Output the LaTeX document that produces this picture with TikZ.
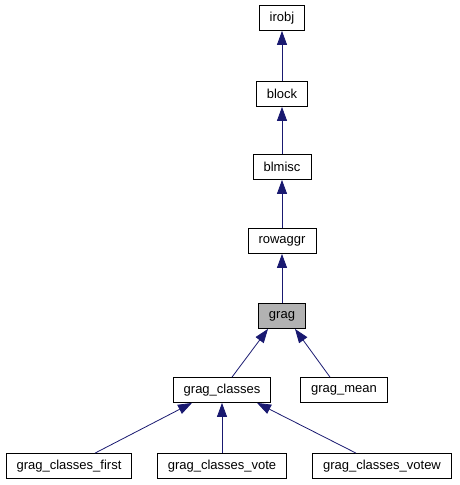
\documentclass[tikz,border=0pt]{standalone}
\usepackage{fontspec}
\setmainfont{Liberation Sans}
\usetikzlibrary{arrows.meta}

\definecolor{edgeblue}{HTML}{191970}

\begin{document}
\begin{tikzpicture}[x=1pt,y=-1pt,line width=0.8pt,
  cls/.style={draw=black,fill=white,inner xsep=10.5pt,inner ysep=0pt,
    minimum height=25pt,font=\fontsize{13}{15}\selectfont},
  inh/.style={draw=edgeblue,-{Triangle[length=14pt,width=10pt]}}]
\useasboundingbox (0,0) rectangle (459,485);

\node [cls] (irobj) at (282,18) {irobj};
\node [cls] (block) at (282,94) {block};
\node [cls] (blmisc) at (282,167) {blmisc};
\node [cls] (rowaggr) at (282,241) {rowaggr};
\node [cls,fill=black!30] (grag) at (282,316) {grag};
\node [cls] (classes) at (222,390) {grag\_classes};
\node [cls] (mean) at (344,390) {grag\_mean};
\node [cls] (first) at (69,466) {grag\_classes\_first};
\node [cls] (vote) at (222,466) {grag\_classes\_vote};
\node [cls] (votew) at (382,466) {grag\_classes\_votew};

\draw [inh] (block) -- (irobj);
\draw [inh] (blmisc) -- (block);
\draw [inh] (rowaggr) -- (blmisc);
\draw [inh] (grag) -- (rowaggr);
\draw [inh] ([xshift=10pt]classes.north) -- ([xshift=-14pt]grag.south);
\draw [inh] ([xshift=-14pt]mean.north) -- ([xshift=13pt]grag.south);
\draw [inh] ([xshift=26pt]first.north) -- ([xshift=-30pt]classes.south);
\draw [inh] (vote) -- (classes);
\draw [inh] ([xshift=-26pt]votew.north) -- ([xshift=35pt]classes.south);

\end{tikzpicture}
\end{document}
